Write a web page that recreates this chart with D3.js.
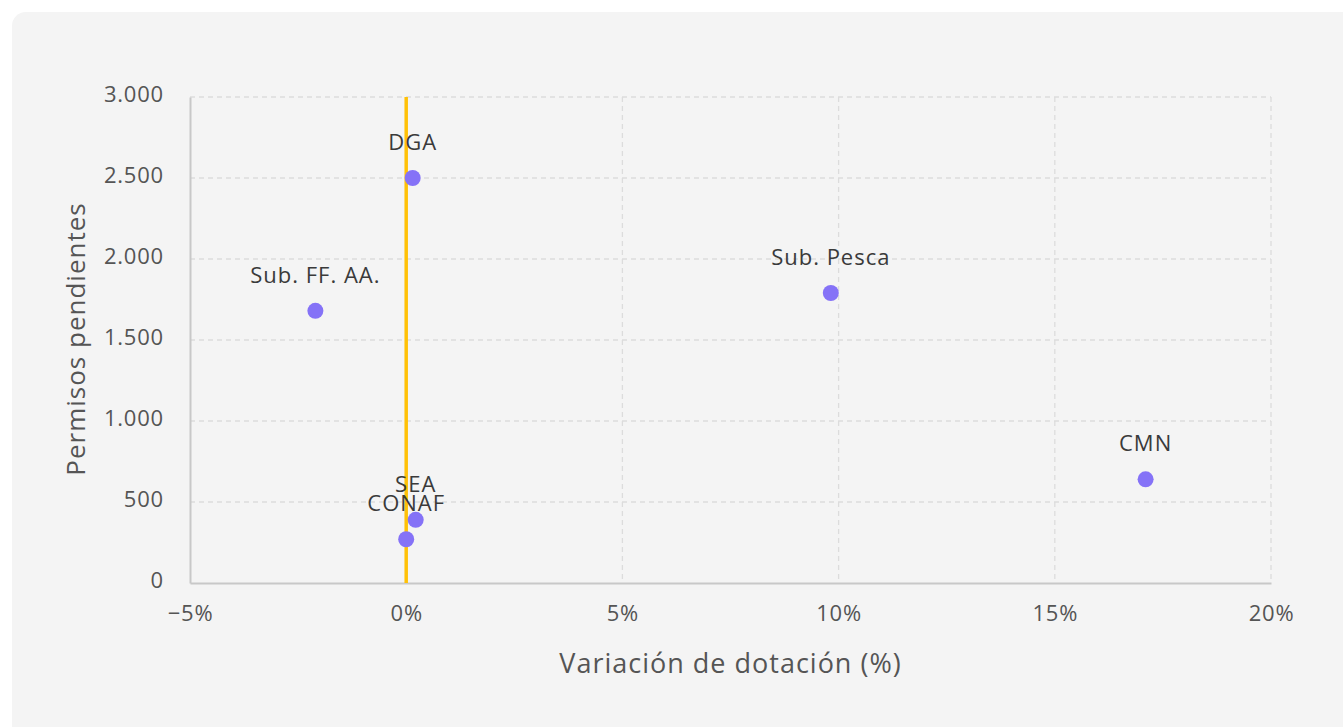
<!DOCTYPE html>
<html><head><meta charset="utf-8">
<script src="https://cdn.jsdelivr.net/npm/d3@7"></script>
<style>
body{margin:0;background:#fff;font-family:"Open Sans",sans-serif;}
</style></head>
<body><svg id="c" width="1343" height="727"></svg>
<script>
const names = ["DGA","Sub. FF. AA.","Sub. Pesca","CMN","SEA","CONAF"];
const variacion = [0.15,-2.1,9.82,17.1,0.22,0.0];
const permisos = [2500,1680,1790,640,390,270];
const xTicks = [-5,0,5,10,15,20];
const yTicks = [0,500,1000,1500,2000,2500,3000];

const svg = d3.select("#c");
svg.append("rect").attr("x",12).attr("y",12).attr("width",1360).attr("height",760).attr("rx",14).attr("fill","#f4f4f4");

const m = {l:190,r:1271,t:97,b:583};
const x = d3.scaleLinear().domain([-5,20]).range([m.l,m.r]);
const y = d3.scaleLinear().domain([0,3000]).range([m.b,m.t]);

const grid = svg.append("g");
grid.selectAll(".gx").data(xTicks.slice(1)).enter().append("line")
 .attr("x1",d=>x(d)).attr("x2",d=>x(d)).attr("y1",m.t).attr("y2",m.b)
 .attr("stroke","#dcdcdc").attr("stroke-width",1.3).attr("stroke-dasharray","5,4");
grid.selectAll(".gy").data(yTicks.slice(1)).enter().append("line")
 .attr("x1",m.l).attr("x2",m.r).attr("y1",d=>y(d)).attr("y2",d=>y(d))
 .attr("stroke","#dcdcdc").attr("stroke-width",1.3).attr("stroke-dasharray","5,4");

const fmtY = d=> d3.format(",")(d).replace(/,/g,".");
const xAxis = svg.append("g").attr("transform",`translate(0,${m.b})`)
 .call(d3.axisBottom(x).tickValues(xTicks).tickSize(0).tickPadding(21).tickFormat(d=>(d<0?"\u2212"+Math.abs(d):d)+"%"));
const yAxis = svg.append("g").attr("transform",`translate(${m.l},0)`)
 .call(d3.axisLeft(y).tickValues(yTicks).tickSize(0).tickPadding(26).tickFormat(fmtY));
[xAxis,yAxis].forEach(a=>{
 a.select(".domain").attr("stroke","#c8c8c8").attr("stroke-width",2);
 a.selectAll("text").attr("fill","#555").style("font-size","22px").style("letter-spacing","0.8px").style("font-family","'Open Sans',sans-serif");
});
yAxis.selectAll("text").attr("dy","0.2em");
xAxis.selectAll("text").attr("dy","0.75em");

svg.append("line").attr("x1",x(0)).attr("x2",x(0)).attr("y1",m.t).attr("y2",m.b)
 .attr("stroke","#FFC107").attr("stroke-width",3.5);

const data = names.map((n,i)=>({n,v:variacion[i],p:permisos[i]}));
svg.selectAll(".dot").data(data).enter().append("circle")
 .attr("cx",d=>x(d.v)).attr("cy",d=>y(d.p)).attr("r",8).attr("fill","#8572F7");
svg.selectAll(".lbl").data(data).enter().append("text")
 .attr("x",d=>x(d.v)).attr("y",d=>y(d.p)-28).attr("text-anchor","middle")
 .attr("fill","#3a3a3a").style("font-size","22px").style("letter-spacing","1px").text(d=>d.n);

svg.append("text").attr("x",(m.l+m.r)/2).attr("y",673).attr("text-anchor","middle")
 .attr("fill","#555").style("font-size","27px").style("letter-spacing","1px").text("Variación de dotación (%)");
svg.append("text").attr("transform",`translate(85,339) rotate(-90)`).attr("text-anchor","middle")
 .attr("fill","#555").style("font-size","26px").style("letter-spacing","1px").text("Permisos pendientes");
</script></body></html>
